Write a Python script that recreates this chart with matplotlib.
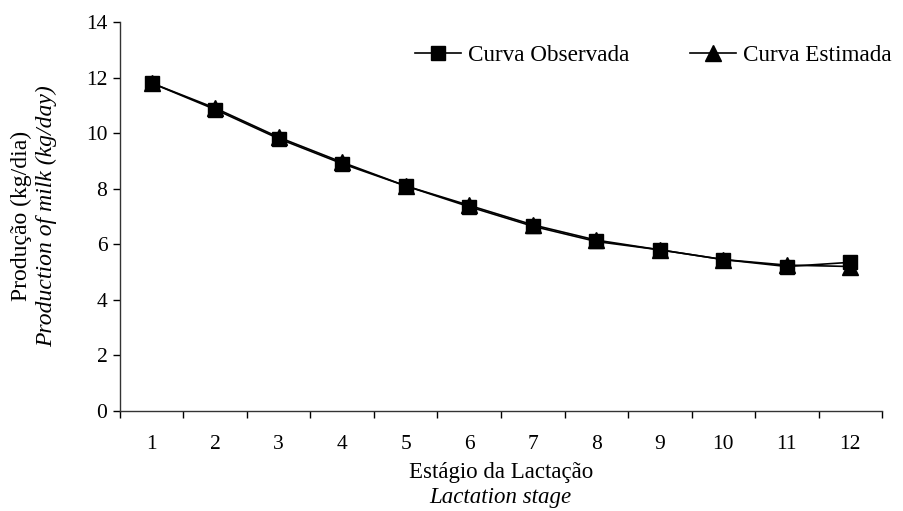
import matplotlib
matplotlib.use("Agg")
import matplotlib.pyplot as plt
import numpy as np

# lactation stage data
stages = [1, 2, 3, 4, 5, 6, 7, 8, 9, 10, 11, 12]
observada = [11.8, 10.85, 9.8, 8.9, 8.1, 7.35, 6.65, 6.1, 5.8, 5.45, 5.2, 5.35]
estimada = [11.8, 10.9, 9.85, 8.95, 8.1, 7.4, 6.7, 6.15, 5.8, 5.45, 5.25, 5.2]
yticks = [0, 2, 4, 6, 8, 10, 12, 14]

plt.rcParams['font.family'] = 'Liberation Serif'

fig = plt.figure(figsize=(9.04, 5.11), dpi=100)
ax = fig.add_axes([0.1327, 0.1957, 0.8430, 0.7613])

ax.plot(stages, estimada, color='black', lw=1.2, marker='^', ms=11, label='Curva Estimada', zorder=2)
ax.plot(stages, observada, color='black', lw=1.2, marker='s', ms=10.5, label='Curva Observada', zorder=3)

ax.set_xlim(0.5, 12.5)
ax.set_ylim(0, 14)
ax.set_yticks(yticks)
ax.set_xticks(stages)
ax.set_xticks(np.arange(0.5, 13, 1), minor=True)
ax.tick_params(axis='x', which='major', length=0, pad=17, labelsize=15.5)
ax.tick_params(axis='x', which='minor', length=5, width=1)
ax.tick_params(axis='y', length=5, width=1, labelsize=15.5, pad=4)
for s in ['top', 'right']:
    ax.spines[s].set_visible(False)
for s in ['left', 'bottom']:
    ax.spines[s].set_linewidth(1)
    ax.spines[s].set_color('#333333')

#legend: observed first, then estimated
h, l = ax.get_legend_handles_labels()
ax.legend(h[::-1], l[::-1], ncol=2, frameon=False, fontsize=16.7,
          loc='center right', bbox_to_anchor=(1.04, 0.915),
          handlelength=2.0, handletextpad=0.3, columnspacing=2.6)

#axis labels (two lines, second in italic)
fig.text(0.024, 0.577, 'Produção (kg/dia)', rotation=90, ha='center', va='center', fontsize=17)
fig.text(0.051, 0.577, 'Production of milk (kg/day)', rotation=90, ha='center', va='center',
         fontsize=17, style='italic')
fig.text(0.554, 0.076, 'Estágio da Lactação', ha='center', va='center', fontsize=16.5)
fig.text(0.554, 0.027, 'Lactation stage', ha='center', va='center', fontsize=16.5, style='italic')

fig.savefig('out.png', dpi=100)
